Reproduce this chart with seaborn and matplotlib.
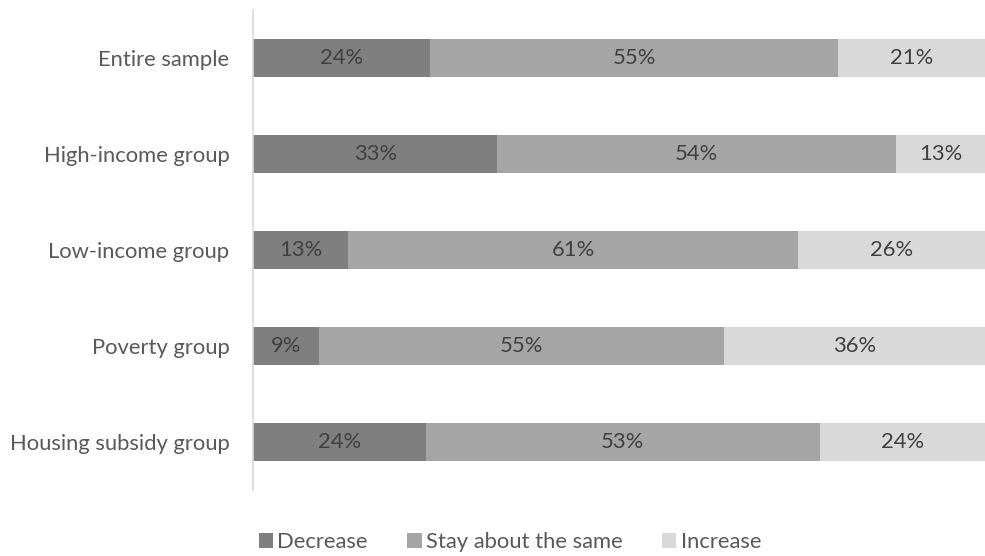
import matplotlib
matplotlib.use("Agg")
import matplotlib.pyplot as plt
import seaborn as sns
import pandas as pd
import numpy as np
from matplotlib.patches import Patch

categories = ["Entire sample", "High-income group", "Low-income group", "Poverty group", "Housing subsidy group"]
decrease = [24.2, 33.4, 13.0, 9.0, 23.6]
stay = [55.7, 54.4, 61.5, 55.3, 53.8]
increase = [20.1, 12.2, 25.5, 35.7, 22.6]
decrease_labels = ["24%", "33%", "13%", "9%", "24%"]
stay_labels = ["55%", "54%", "61%", "55%", "53%"]
increase_labels = ["21%", "13%", "26%", "36%", "24%"]
series_names = ["Decrease", "Stay about the same", "Increase"]
colors = ["#7f7f7f", "#a5a5a5", "#d9d9d9"]

sns.set_theme(style="white")
plt.rcParams["font.family"] = ["Lato", "DejaVu Sans"]
FS = 15.8

df = pd.DataFrame({"cat": categories, "dec": decrease, "stay": stay, "inc": increase})
df["c1"] = df["dec"]
df["c2"] = df["dec"] + df["stay"]
df["c3"] = df["c2"] + df["inc"]

fig = plt.figure(figsize=(9.85, 5.56), dpi=100)
ax = fig.add_axes([253 / 985, 1 - 490 / 556, 1 - 253 / 985, 480 / 556])

for col, color in zip(["c3", "c2", "c1"], colors[::-1]):
    sns.barplot(data=df, x=col, y="cat", orient="h", color=color, width=0.40,
                saturation=1, ax=ax, order=categories, linewidth=0, edgecolor="none")

lefts = [np.zeros(5), df["c1"].values, df["c2"].values]
widths = [df["dec"].values, df["stay"].values, df["inc"].values]
labels = [decrease_labels, stay_labels, increase_labels]
for l, w, labs in zip(lefts, widths, labels):
    for i in range(5):
        ax.text(l[i] + w[i] / 2, i, labs[i], ha="center", va="center",
                fontsize=FS, color="#404040")

ax.set_xlim(0, 100)
ax.set_ylim(4.5, -0.5)
ax.set_xlabel("")
ax.set_ylabel("")
ax.set_xticks([])
ax.tick_params(axis="y", length=0, pad=17, labelsize=FS, labelcolor="#595959")
for s in ["top", "right", "bottom"]:
    ax.spines[s].set_visible(False)
ax.spines["left"].set_color("#d9d9d9")
ax.spines["left"].set_linewidth(1.2)

handles = [Patch(facecolor=c, edgecolor="none") for c in colors]
fig.legend(handles, series_names, loc="center", bbox_to_anchor=(510 / 985, 1 - 542 / 556),
           ncol=3, frameon=False, fontsize=FS, handlelength=0.65, handleheight=0.65,
           handletextpad=0.2, columnspacing=1.8, labelcolor="#595959")

fig.savefig("out.png", dpi=100)
